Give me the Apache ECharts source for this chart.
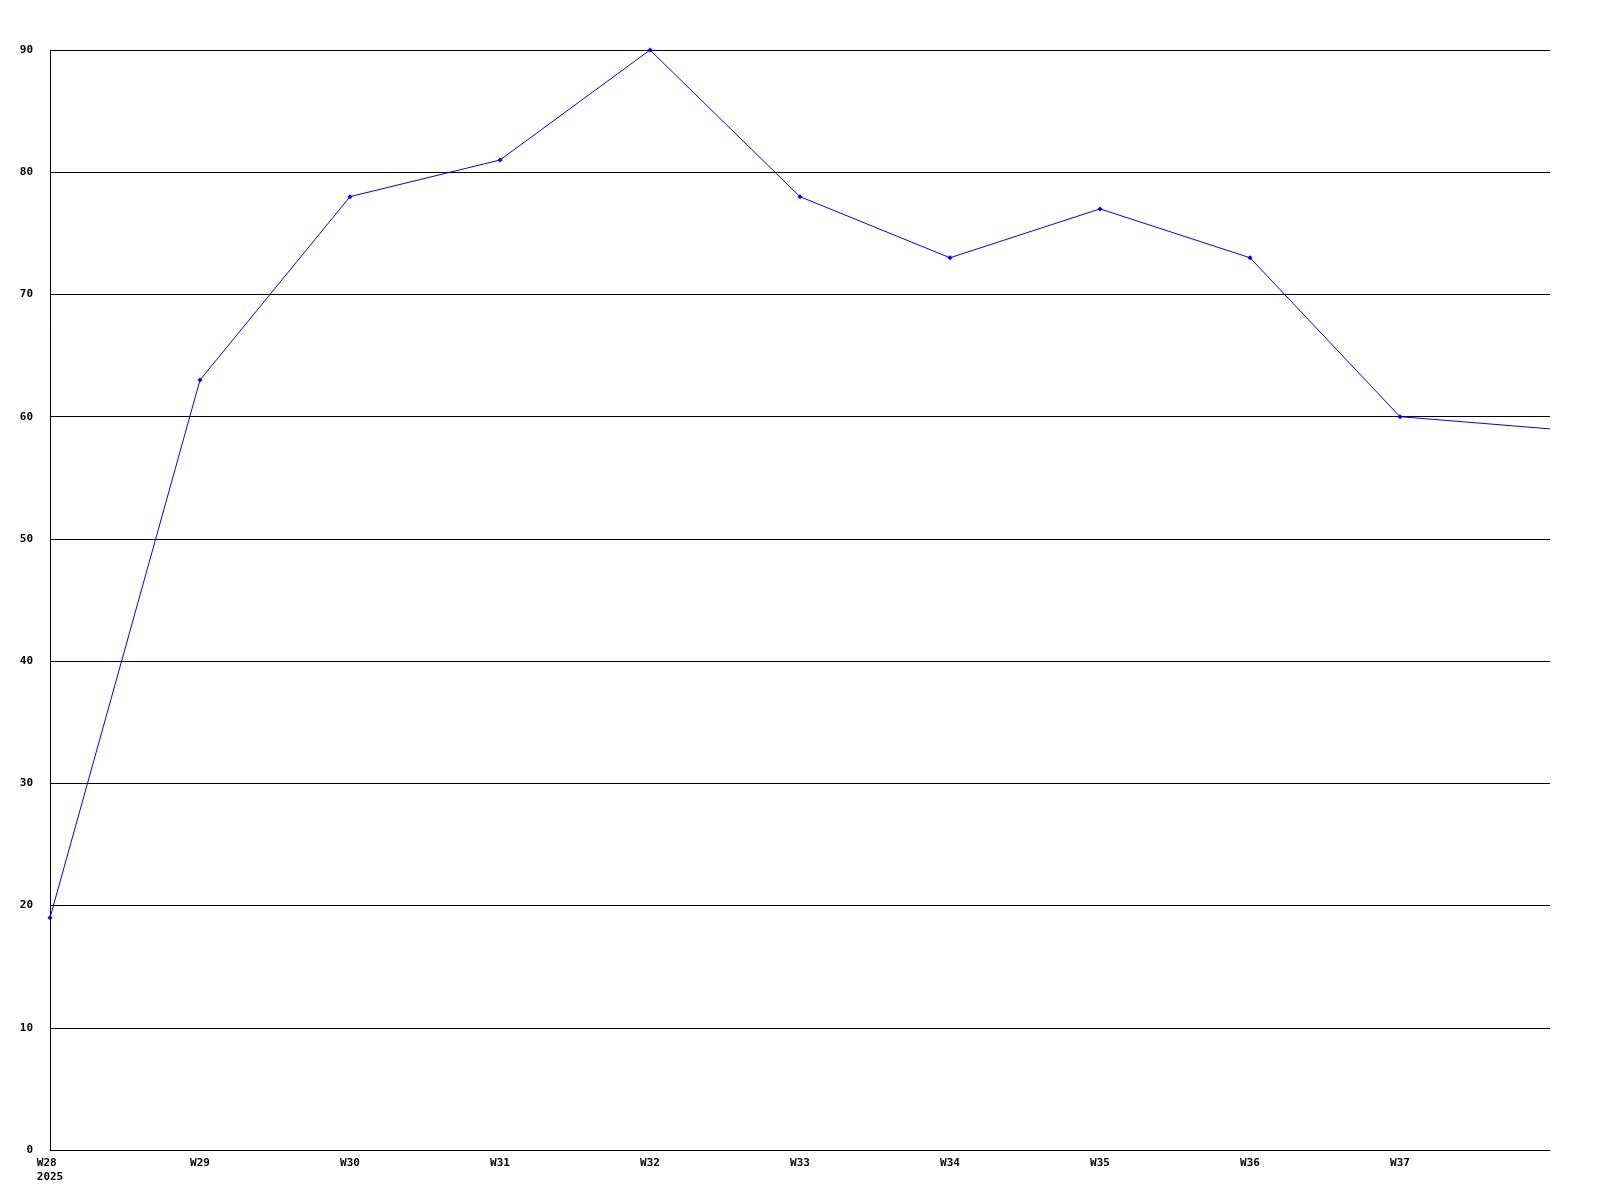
<!DOCTYPE html>
<html>
<head>
<meta charset="utf-8">
<script src="https://cdn.jsdelivr.net/npm/echarts@6/dist/echarts.min.js"></script>
<style>html,body{margin:0;padding:0;background:#fff;}#c{width:1600px;height:1200px;}</style>
</head>
<body>
<div id="c"></div>
<script>
const weeks = ['W28','W29','W30','W31','W32','W33','W34','W35','W36','W37','W38'];
const values = [19, 63, 78, 81, 90, 78, 73, 77, 73, 60, 59];
const yearLabel = '2025';
const yTicks = {min: 0, max: 90, interval: 10};

const chart = echarts.init(document.getElementById('c'), null, {renderer: 'canvas'});
const font = {fontFamily: 'DejaVu Sans Mono', fontWeight: 'bold', fontSize: 11, color: '#000'};
chart.setOption({
  animation: false,
  backgroundColor: '#fff',
  grid: {left: 50, right: 50, top: 50, bottom: 50, containLabel: false},
  xAxis: {
    type: 'category',
    data: weeks,
    boundaryGap: false,
    axisLine: {show: true, lineStyle: {color: '#000', width: 1}},
    axisTick: {show: false},
    splitLine: {show: false},
    axisLabel: Object.assign({}, font, {
      interval: 0,
      margin: 6,
      lineHeight: 14,
      formatter: function (v, i) {
        if (i === weeks.length - 1) return '';
        return i === 0 ? '{l|' + v + '}\n{l|' + yearLabel + '}' : v;
      },
      rich: {l: Object.assign({}, font, {align: 'left', lineHeight: 14})}
    })
  },
  yAxis: {
    type: 'value',
    min: yTicks.min, max: yTicks.max, interval: yTicks.interval,
    axisLine: {show: true, lineStyle: {color: '#000', width: 1}},
    axisTick: {show: false},
    splitLine: {show: true, lineStyle: {color: '#000', width: 1}},
    axisLabel: Object.assign({}, font, {margin: 17})
  },
  series: [{
    type: 'line',
    data: values.map(function (v, i) {
      return i === values.length - 1 ? {value: v, symbol: 'none'} : v;
    }),
    symbol: 'diamond',
    symbolSize: 5,
    showAllSymbol: true,
    itemStyle: {color: '#0000ff'},
    lineStyle: {color: '#0000ff', width: 1}
  }]
});
</script>
</body>
</html>
